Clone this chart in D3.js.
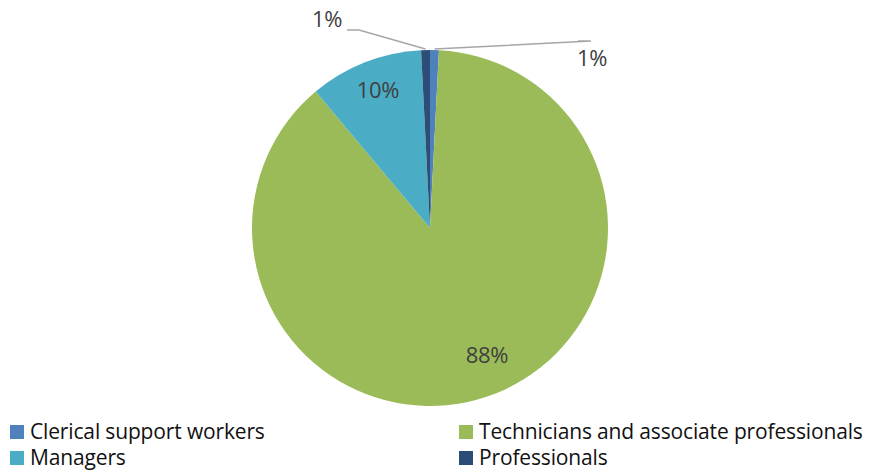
<!DOCTYPE html>
<html>
<head>
<meta charset="utf-8">
<script src="https://cdn.jsdelivr.net/npm/d3@7"></script>
<style>
  body { margin: 0; background: #fff; }
  text { font-family: "Open Sans", sans-serif; fill: #404040; }
</style>
</head>
<body>
<div id="chart"></div>
<script>
// data
const categories = ["Clerical support workers", "Technicians and associate professionals", "Managers", "Professionals"];
const values = [0.8, 88.1, 10.3, 0.8];
const labels = ["1%", "88%", "10%", "1%"];
const colors = ["#4F81BD", "#9BBB59", "#4BACC6", "#2C4D75"];

const width = 870, height = 471;
const cx = 430, cy = 228, radius = 178;

const svg = d3.select("#chart").append("svg")
  .attr("width", width).attr("height", height);

const g = svg.append("g").attr("transform", `translate(${cx},${cy})`);

const pie = d3.pie().sort(null).value(d => d);
const arc = d3.arc().innerRadius(0).outerRadius(radius);
const arcs = pie(values);

g.selectAll("path").data(arcs).enter().append("path")
  .attr("d", arc)
  .attr("fill", (d, i) => colors[i]);

// label positions (offset from centre) — big slices inside, small ones with leaders
const labelPos = [
  { x: 162, y: -170, anchor: "middle", leader: [[161, -187], [148, -187]] },
  { x: 57, y: 127, anchor: "middle" },
  { x: -52, y: -138, anchor: "middle" },
  { x: -103, y: -209, anchor: "middle", leader: [[-71, -198], [-83, -198]] }
];

arcs.forEach((d, i) => {
  const p = labelPos[i];
  if (p.leader) {
    const mid = (d.startAngle + d.endAngle) / 2;
    const r0 = radius + 1;
    const start = [Math.sin(mid) * r0, -Math.cos(mid) * r0];
    const pts = [start].concat(p.leader);
    g.append("path")
      .attr("d", d3.line()(pts))
      .attr("fill", "none")
      .attr("stroke", "#A6A6A6")
      .attr("stroke-width", 1.5);
  }
  g.append("text")
    .attr("x", p.x).attr("y", p.y)
    .attr("dy", "0.35em")
    .attr("text-anchor", p.anchor)
    .style("font-size", "22px")
    .style("letter-spacing", "-0.3px")
    .text(labels[i]);
});

// legend
const legendX = [10, 459];
const legendY = [432, 458];
const legend = svg.selectAll("g.legend").data(categories).enter().append("g")
  .attr("class", "legend")
  .attr("transform", (d, i) => `translate(${legendX[i % 2]},${legendY[Math.floor(i / 2)]})`);

legend.append("rect")
  .attr("x", 0).attr("y", -7)
  .attr("width", 14).attr("height", 14)
  .attr("fill", (d, i) => colors[i]);

legend.append("text")
  .attr("x", 20).attr("y", 0)
  .attr("dy", "0.35em")
  .style("font-size", "21px")
  .style("letter-spacing", "-0.15px")
  .style("fill", "#111")
  .text(d => d);
</script>
</body>
</html>
